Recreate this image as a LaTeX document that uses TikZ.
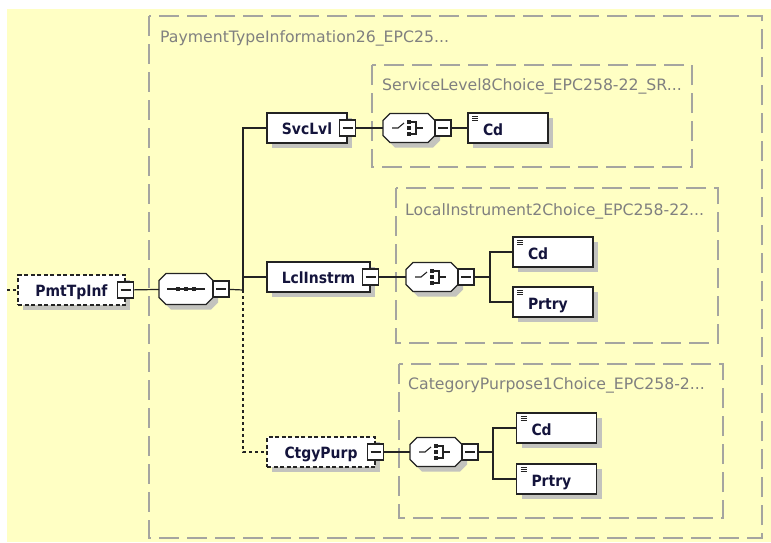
\documentclass[tikz,border=0pt]{standalone}
\usepackage{fontspec}
\setmainfont{DejaVu Sans}
\newfontfamily\elemfont{DejaVu Sans Condensed}
\usetikzlibrary{shadows,calc}
\definecolor{bgyellow}{RGB}{255,255,196}
\definecolor{boxgray}{RGB}{165,165,160}
\definecolor{labelgray}{RGB}{128,128,128}
\definecolor{txtblue}{RGB}{20,20,60}
\definecolor{shadowgray}{RGB}{195,195,190}
\definecolor{linecol}{RGB}{35,35,35}
% octagon between two corner coordinates
\newcommand{\octbox}[3]{%
  \path #2 coordinate (oa) #3 coordinate (ob);
  \path[#1] ($(oa)+(7,0)$) -- ($(ob |- oa)+(-7,0)$) -- ($(ob |- oa)+(0,7)$) -- ($(ob)+(0,-7)$)
    -- ($(ob)+(-7,0)$) -- ($(oa |- ob)+(7,0)$) -- ($(oa |- ob)+(0,-7)$) -- ($(oa)+(0,7)$) -- cycle;}
\newcommand{\compshape}[1]{%
  \octbox{fill=shadowgray}{($(#1.north west)+(5,5)$)}{($(#1.south east)+(5,5)$)}%
  \octbox{draw=linecol,line width=1.2pt,fill=white}{(#1.north west)}{(#1.south east)}}
\newcommand{\seqicon}[1]{%
  \draw[linecol,line width=1.2pt] ($(#1.center)+(-19,0)$) -- ($(#1.center)+(19,0)$);
  \foreach \dx in {-8,0,8}{\fill[linecol] ($(#1.center)+(\dx-2.2,-2.2)$) rectangle ($(#1.center)+(\dx+2.2,2.2)$);}}
\newcommand{\choiceicon}[1]{%
  \draw[linecol,line width=1.1pt] ($(#1.center)+(-17,0)$) -- ($(#1.center)+(-11,0)$) -- ($(#1.center)+(-5,-5)$);
  \foreach \dy in {-6,0,6}{\fill[linecol] ($(#1.center)+(-2,\dy-2)$) rectangle ($(#1.center)+(2,\dy+2)$);}
  \draw[linecol,line width=1.1pt] ($(#1.center)+(2,-6)$) -- ($(#1.center)+(7,-6)$) -- ($(#1.center)+(7,6)$) -- ($(#1.center)+(2,6)$);
  \draw[linecol,line width=1.1pt] ($(#1.center)+(7,0)$) -- ($(#1.center)+(14,0)$);}
\begin{document}
\begin{tikzpicture}[x=1pt,y=-1pt,
  container/.style={draw=boxgray,line width=1.6pt,dash pattern=on 20pt off 8pt},
  ctlabel/.style={anchor=base west,text=labelgray,font=\fontsize{15.7}{17}\selectfont,inner sep=0pt},
  elem/.style={draw=linecol,line width=1.2pt,fill=white,minimum height=30pt,inner xsep=2pt,inner ysep=1pt,
    text=txtblue,font=\elemfont\bfseries\fontsize{15.5}{17}\selectfont,text height=12pt,text depth=0pt,
    drop shadow={shadow xshift=5pt,shadow yshift=-5pt,fill=shadowgray,opacity=1}},
  optional/.style={dash pattern=on 4pt off 2.5pt},
  leaf/.style={elem,text width=50pt,align=left,inner xsep=15pt,text height=15pt,
    path picture={\coordinate (pnw) at (path picture bounding box.north west);
      \foreach \k in {3.5,5.5,7.5}{\draw[linecol,line width=0.7pt] ($(pnw)+(4,\k)$) -- ++(6,0);}}},
  minus/.style={solid,draw=linecol,line width=1.1pt,fill=white,minimum size=16pt,inner sep=0pt,
    path picture={\draw[solid,linecol,line width=1.1pt] ([xshift=-5pt]path picture bounding box.center) -- ([xshift=5pt]path picture bounding box.center);}},
  comp/.style={rectangle,minimum width=52pt,minimum height=29pt,inner sep=0pt,outer sep=0pt},
  conn/.style={draw=linecol,line width=1.2pt},
  dconn/.style={conn,dash pattern=on 3pt off 3pt}
]
\useasboundingbox (0,0) rectangle (771,542);
\fill[bgyellow] (7,9) rectangle (771,542);

% containers
\draw[container] (149,16) rectangle (762,538);
\node[ctlabel] (lblouter) at (160,42) {PaymentTypeInformation26\_EPC25...};
\draw[container] (372,65) rectangle (692,167);
\node[ctlabel] (lblsvc) at (382,90) {ServiceLevel8Choice\_EPC258-22\_SR...};
\draw[container] (396,188) rectangle (718,343);
\node[ctlabel] (lbllcl) at (405,215) {LocalInstrument2Choice\_EPC258-22...};
\draw[container] (399,364) rectangle (723,518);
\node[ctlabel] (lblctg) at (408,389) {CategoryPurpose1Choice\_EPC258-2...};

% root
\node[elem,optional,minimum width=107pt] (pmt) at (71.5,290) {PmtTpInf};
\node[minus] (pmtm) at (pmt.east) {};
\coordinate (in) at (7,290);

% sequence
\node[comp,minimum width=54pt,minimum height=31pt] (seq) at (186,289) {};
\compshape{seq}\seqicon{seq}
\node[minus] (seqm) at ([xshift=8pt]seq.east) {};
\coordinate (j0) at (243,290);

% SvcLvl
\node[elem,minimum width=80pt] (svc) at (307,128) {SvcLvl};
\node[minus] (svcm) at (svc.east) {};
\node[comp] (ch1) at (409,128) {};
\compshape{ch1}\choiceicon{ch1}
\node[minus] (ch1m) at ([xshift=8pt]ch1.east) {};
\node[leaf] (cd1) at (508,128) {Cd};

% LclInstrm
\node[elem,minimum width=103pt] (lcl) at (318.5,277) {LclInstrm};
\node[minus] (lclm) at (lcl.east) {};
\node[comp] (ch2) at (432,277) {};
\compshape{ch2}\choiceicon{ch2}
\node[minus] (ch2m) at ([xshift=8pt]ch2.east) {};
\coordinate (j2) at (490,277);
\node[leaf] (cd2) at (553,252) {Cd};
\node[leaf] (pr2) at (553,302) {Prtry};

% CtgyPurp
\node[elem,optional,minimum width=108pt] (ctg) at (321,452) {CtgyPurp};
\node[minus] (ctgm) at (ctg.east) {};
\node[comp] (ch3) at (436,452) {};
\compshape{ch3}\choiceicon{ch3}
\node[minus] (ch3m) at ([xshift=8pt]ch3.east) {};
\coordinate (j3) at (493,452);
\node[leaf] (cd3) at (556.5,428) {Cd};
\node[leaf] (pr3) at (556.5,479) {Prtry};

% connectors
\draw[dconn] (in) -- (pmt);
\draw[conn] (pmtm) -- (seq);
\draw[conn] (seqm) -- (j0);
\draw[conn] (j0) |- (svc);
\draw[conn] (j0) |- (lcl);
\draw[dconn] (j0) |- (ctg);
\draw[conn] (svcm) -- (ch1);
\draw[conn] (ch1m) -- (cd1);
\draw[conn] (lclm) -- (ch2);
\draw[conn] (ch2m) -- (j2);
\draw[conn] (j2) |- (cd2);
\draw[conn] (j2) |- (pr2);
\draw[conn] (ctgm) -- (ch3);
\draw[conn] (ch3m) -- (j3);
\draw[conn] (j3) |- (cd3);
\draw[conn] (j3) |- (pr3);
\end{tikzpicture}
\end{document}
